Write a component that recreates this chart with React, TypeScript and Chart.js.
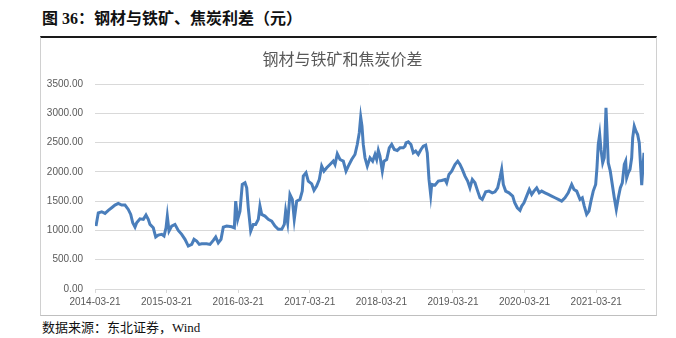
import React, { useEffect, useRef } from "react";
import { Chart, registerables } from "chart.js";

Chart.register(...registerables);

// Time in years since 2014-03-21
const yearOffset: number[] = [
  0.014, 0.046, 0.094, 0.14, 0.186, 0.233, 0.279, 0.325, 0.373, 0.419,
  0.465, 0.499, 0.527, 0.559, 0.582, 0.628, 0.675, 0.712, 0.744, 0.768,
  0.814, 0.848, 0.884, 0.932, 0.964, 0.992, 1.01, 1.034, 1.071, 1.117,
  1.163, 1.211, 1.257, 1.303, 1.351, 1.383, 1.42, 1.457,
  1.49, 1.56, 1.606, 1.652, 1.686, 1.722, 1.76, 1.792, 1.839, 1.909,
  1.946, 1.965, 1.993, 2.025, 2.057, 2.095, 2.119, 2.141, 2.175, 2.211,
  2.244, 2.281, 2.304, 2.328, 2.374, 2.42, 2.468, 2.514, 2.56, 2.608,
  2.644, 2.663, 2.691, 2.723, 2.756, 2.783, 2.817, 2.863, 2.895,
  2.909, 2.947, 2.979, 3.027, 3.059, 3.096, 3.133, 3.166, 3.198, 3.236,
  3.282, 3.328, 3.352, 3.384, 3.422, 3.468, 3.506, 3.538, 3.585, 3.631,
  3.663, 3.691, 3.711, 3.729, 3.747, 3.771, 3.803, 3.841, 3.878, 3.911,
  3.934, 3.957, 3.98, 4.013, 4.036, 4.074, 4.11, 4.144, 4.18, 4.222,
  4.26, 4.306,
  4.33, 4.344, 4.376, 4.413, 4.446, 4.479, 4.515, 4.553, 4.585, 4.619,
  4.641, 4.665, 4.689, 4.703, 4.749, 4.795, 4.842, 4.888, 4.912, 4.944,
  4.982, 5.028, 5.066, 5.098, 5.13, 5.168, 5.205, 5.237, 5.27, 5.307,
  5.345, 5.377, 5.409, 5.457, 5.503, 5.549, 5.587, 5.624, 5.656, 5.68,
  5.703, 5.736, 5.782,
  5.834, 5.862, 5.898, 5.936, 5.96, 5.992, 6.029, 6.066, 6.099, 6.131,
  6.169, 6.205, 6.239, 6.285, 6.331, 6.378, 6.425, 6.471, 6.518, 6.564,
  6.61, 6.658, 6.69, 6.728,
  6.774, 6.806, 6.834, 6.867, 6.899, 6.927, 6.959, 6.993, 7.011, 7.029,
  7.049, 7.067, 7.091, 7.113, 7.137, 7.151, 7.169, 7.197, 7.225, 7.253,
  7.281, 7.309, 7.337, 7.365, 7.393, 7.412, 7.426, 7.448, 7.472, 7.496,
  7.51, 7.532, 7.556, 7.579, 7.602, 7.622, 7.636, 7.654, 7.668,
];

// 钢材与铁矿和焦炭价差 (元)
const spread: number[] = [
  1075, 1302, 1320, 1292, 1343, 1388, 1434, 1463, 1434, 1434,
  1360, 1275, 1132, 1058, 1132, 1200, 1190, 1263, 1190, 1104,
  1046, 888, 922, 934, 905, 1046, 1246, 990, 1075, 1104,
  1002, 934, 849, 734, 763, 849, 819, 763,
  773, 773, 763, 831, 888, 790, 849, 1058, 1075, 1064,
  1046, 1502, 1190, 1331, 1787, 1815, 1729, 1388, 990, 1104,
  1104, 1190, 1417, 1275, 1246, 1190, 1161, 1075, 1019, 1019,
  1104, 1331, 1132, 1617, 1531, 1190, 1502, 1531, 1673,
  1929, 1986, 1844, 1798, 1685, 1758, 1872, 2100, 2014, 2071,
  2128, 2185, 2128, 2310, 2213, 2185, 2014, 2100, 2213, 2299,
  2470, 2668, 2936, 2782, 2470, 2242, 2100, 2242, 2185, 2299,
  2213, 2368, 2270, 2014, 2185, 2213, 2412, 2470, 2385, 2368,
  2412, 2412,
  2441, 2497, 2515, 2470, 2327, 2356, 2299, 2385, 2441, 2458,
  2327, 1872, 1605, 1787, 1775, 1844, 1855, 1872, 1815, 1958,
  2014, 2128, 2185, 2128, 2043, 1929, 1844, 1729, 1872, 1815,
  1673, 1559, 1531, 1661, 1673, 1644, 1661, 1729, 1900, 2043,
  1787, 1673, 1644,
  1588, 1473, 1388, 1343, 1417, 1473, 1588, 1702, 1616, 1673,
  1729, 1644, 1673, 1644, 1616, 1588, 1559, 1531, 1502, 1559,
  1644, 1787, 1702, 1673,
  1531, 1559, 1417, 1275, 1331, 1502, 1673, 1787, 2071, 2470,
  2641, 2385, 2156, 2242, 3095, 2697, 2156, 2014, 1787, 1559,
  1360, 1559, 1729, 1815, 2128, 2185, 1900, 1986, 2043, 2242,
  2583, 2782, 2697, 2641, 2497, 2071, 1775, 2100, 2327,
];

const startYear = 2014;
const tickSuffix = "-03-21";
const yMax = 3500;
const yStep = 500;
const xMax = 7.668;

const headerText = "图 36：钢材与铁矿、焦炭利差（元）";
const chartTitle = "钢材与铁矿和焦炭价差";
const sourceText = "数据来源：东北证券，Wind";

export default function App() {
  const canvasRef = useRef<HTMLCanvasElement | null>(null);

  useEffect(() => {
    if (!canvasRef.current) return;
    const points = yearOffset.map((x, i) => ({ x, y: spread[i] }));
    const chart = new Chart(canvasRef.current, {
      type: "line",
      data: {
        datasets: [
          {
            label: chartTitle,
            data: points,
            borderColor: "#4a7ebb",
            borderWidth: 3,
            pointRadius: 0,
            tension: 0,
            fill: false,
          },
        ],
      },
      options: {
        animation: false,
        responsive: false,
        maintainAspectRatio: false,
        layout: { padding: { top: 0, right: 12, bottom: 4, left: 0 } },
        plugins: {
          legend: { display: false },
          tooltip: { enabled: false },
          title: {
            display: true,
            text: chartTitle,
            color: "#595959",
            font: { family: "'Noto Sans CJK SC', sans-serif", size: 16, weight: "normal" },
            padding: { top: 11, bottom: 16 },
          },
        },
        scales: {
          x: {
            type: "linear",
            min: 0,
            max: xMax,
            grid: {
              display: true,
              drawOnChartArea: false,
              drawTicks: true,
              tickLength: 4,
              color: "#d9d9d9",
            },
            border: { display: true, color: "#d9d9d9" },
            ticks: {
              stepSize: 1,
              includeBounds: false,
              autoSkip: false,
              maxRotation: 0,
              padding: 3,
              color: "#595959",
              font: { family: "'Liberation Sans', Arial, sans-serif", size: 10 },
              callback: (v: any) => `${startYear + Math.round(Number(v))}${tickSuffix}`,
            },
          },
          y: {
            min: 0,
            max: yMax,
            grid: { color: "#d9d9d9", drawTicks: false, lineWidth: 1 },
            border: { display: false },
            afterFit: (scale: any) => {
              scale.width = 54;
            },
            ticks: {
              stepSize: yStep,
              padding: 12,
              color: "#595959",
              font: { family: "'Liberation Sans', Arial, sans-serif", size: 10 },
              callback: (v: any) => Number(v).toFixed(2),
            },
          },
        },
      },
    });
    return () => chart.destroy();
  }, []);

  return (
    <div
      style={{
        position: "absolute",
        left: 0,
        top: 0,
        width: 676,
        height: 338,
        background: "#fff",
        overflow: "hidden",
      }}
    >
      <div
        style={{
          position: "absolute",
          left: 42,
          top: 9,
          fontFamily: "'Liberation Serif', 'Noto Sans CJK SC', serif",
          fontWeight: "bold",
          fontSize: 16,
          lineHeight: "20px",
          color: "#111",
          whiteSpace: "nowrap",
        }}
      >
        {headerText}
      </div>
      <div
        style={{
          position: "absolute",
          left: 40,
          top: 36,
          width: 617,
          height: 280,
          boxSizing: "border-box",
          borderTop: "2px solid #1a1a1a",
          borderLeft: "1px solid #d0d0d0",
          borderRight: "1px solid #d0d0d0",
          borderBottom: "1px solid #bfbfbf",
        }}
      >
        <canvas
          ref={canvasRef}
          width={615}
          height={277}
          style={{ position: "absolute", left: 0, top: 0, width: 615, height: 277 }}
        />
      </div>
      <div
        style={{
          position: "absolute",
          left: 42,
          top: 319,
          fontFamily: "'Liberation Serif', 'Noto Sans CJK SC', serif",
          fontSize: 13,
          lineHeight: "18px",
          color: "#111",
          whiteSpace: "nowrap",
        }}
      >
        {sourceText}
      </div>
    </div>
  );
}
